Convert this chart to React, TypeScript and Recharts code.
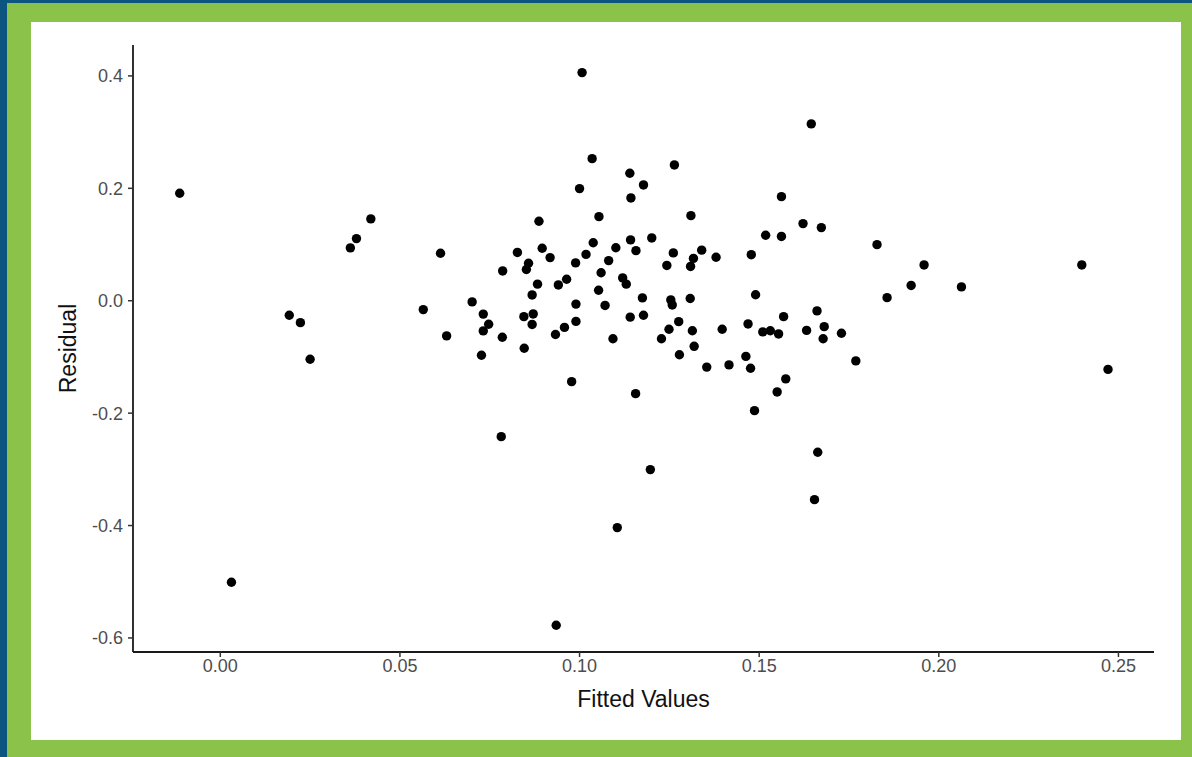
import { ScatterChart, Scatter, XAxis, YAxis } from 'recharts';

// values, one entry per point
const fittedValues = [
  -0.0113, 0.0419, 0.0379, 0.0362, 0.0613, 0.0192, 0.0223, 0.025, 0.0565, 0.0701,
  0.063, 0.0031, 0.0732, 0.0785, 0.0727, 0.0846, 0.0782, 0.1007, 0.1035, 0.114,
  0.1178, 0.1, 0.1143, 0.1264, 0.131, 0.0887, 0.1054, 0.0827, 0.0896, 0.0918,
  0.1038, 0.1018, 0.1101, 0.1142, 0.1157, 0.1201, 0.1261, 0.1317, 0.1309, 0.1243,
  0.134, 0.0858, 0.0852, 0.0786, 0.0989, 0.1081, 0.106, 0.0964, 0.0941, 0.0883,
  0.0868, 0.112, 0.113, 0.1053, 0.0732, 0.0747, 0.0845, 0.0871, 0.0868, 0.099,
  0.099, 0.0958, 0.0933, 0.1071, 0.1093, 0.1175, 0.1141, 0.1178, 0.1254, 0.1258,
  0.1308, 0.1276, 0.1249, 0.1228, 0.1314, 0.1319, 0.1278, 0.1645, 0.1562, 0.1622,
  0.1673, 0.1518, 0.1562, 0.1828, 0.1959, 0.1923, 0.1856, 0.138, 0.1478, 0.149,
  0.1397, 0.1469, 0.1568, 0.151, 0.1531, 0.1554, 0.1632, 0.1661, 0.1681, 0.1678,
  0.1729, 0.1769, 0.1463, 0.1354, 0.1416, 0.1476, 0.2063, 0.2398, 0.2471, 0.0978,
  0.1156, 0.1574, 0.155, 0.1487, 0.1663, 0.1197, 0.1105, 0.1654, 0.0935,
];

const residuals = [
  0.1913, 0.1456, 0.1105, 0.094, 0.0845, -0.0258, -0.039, -0.1041, -0.0158, -0.0021,
  -0.0626, -0.5009, -0.0537, -0.0649, -0.097, -0.0845, -0.2418, 0.4059, 0.2528, 0.2269,
  0.206, 0.1995, 0.1829, 0.2416, 0.1514, 0.1415, 0.1496, 0.0859, 0.0934, 0.0767,
  0.1032, 0.0824, 0.0943, 0.1082, 0.0891, 0.1117, 0.0851, 0.0753, 0.061, 0.0628,
  0.09, 0.0667, 0.0555, 0.053, 0.0673, 0.0714, 0.0498, 0.0383, 0.0281, 0.0295,
  0.0103, 0.0406, 0.0295, 0.0187, -0.0238, -0.0418, -0.0283, -0.0235, -0.0422, -0.006,
  -0.0368, -0.0475, -0.06, -0.0084, -0.0676, 0.005, -0.0292, -0.0258, 0.0014, -0.0075,
  0.0039, -0.0372, -0.0507, -0.0676, -0.0534, -0.0811, -0.0961, 0.3146, 0.1852, 0.1372,
  0.1301, 0.1165, 0.1144, 0.0998, 0.0637, 0.0272, 0.0055, 0.0774, 0.0819, 0.0107,
  -0.0507, -0.0413, -0.0283, -0.0555, -0.0534, -0.0591, -0.0528, -0.0181, -0.0461, -0.0676,
  -0.0578, -0.1071, -0.0991, -0.1181, -0.1142, -0.1201, 0.0246, 0.0637, -0.1222, -0.144,
  -0.1653, -0.1391, -0.1623, -0.1956, -0.2696, -0.3005, -0.4037, -0.3539, -0.5774,
];

const xTicks = [0, 0.05, 0.1, 0.15, 0.2, 0.25];
const yTicks = [-0.6, -0.4, -0.2, 0, 0.2, 0.4];

const points = fittedValues.map((fitted, i) => ({ fitted, residual: residuals[i] }));

const font = '"Liberation Sans", Arial, Helvetica, sans-serif';
const tickStyle = { fill: '#4d4d4d', fontSize: 18, fontFamily: font };
const titleStyle = { fill: '#111', fontSize: 23, fontFamily: font };

const Dot = (props: any) => <circle cx={props.cx} cy={props.cy} r={4.7} fill="#000" />;

export default function App() {
  return (
    <div style={{ position: 'absolute', left: 0, top: 0, width: 1192, height: 757, background: '#0b5580' }}>
      <div style={{ position: 'absolute', left: 7, top: 3, width: 1185, height: 754, background: '#8bc34a' }}>
        <div style={{ position: 'absolute', left: 24, top: 19, width: 1150, height: 718, background: '#fff' }}>
          <ScatterChart width={1150} height={718} margin={{ top: 23, right: 27, left: 0, bottom: 0 }}>
            <XAxis
              type="number"
              dataKey="fitted"
              domain={[-0.0243, 0.2599]}
              ticks={xTicks}
              allowDataOverflow
              height={88}
              tickSize={5}
              tickMargin={2}
              tickFormatter={(v: number) => v.toFixed(2)}
              tick={tickStyle}
              axisLine={{ stroke: '#1a1a1a', strokeWidth: 1.8 }}
              tickLine={{ stroke: '#333', strokeWidth: 1.5 }}
              label={{ value: 'Fitted Values', position: 'insideBottom', offset: 33, style: titleStyle }}
            />
            <YAxis
              type="number"
              dataKey="residual"
              domain={[-0.625, 0.455]}
              ticks={yTicks}
              allowDataOverflow
              width={102}
              tickSize={5}
              tickMargin={5}
              tickFormatter={(v: number) => v.toFixed(1)}
              tick={tickStyle}
              axisLine={{ stroke: '#1a1a1a', strokeWidth: 1.8 }}
              tickLine={{ stroke: '#333', strokeWidth: 1.5 }}
              label={{ value: 'Residual', angle: -90, position: 'insideLeft', offset: 37, style: { ...titleStyle, textAnchor: 'middle' } }}
            />
            <Scatter data={points} shape={Dot} isAnimationActive={false} />
          </ScatterChart>
        </div>
      </div>
    </div>
  );
}
